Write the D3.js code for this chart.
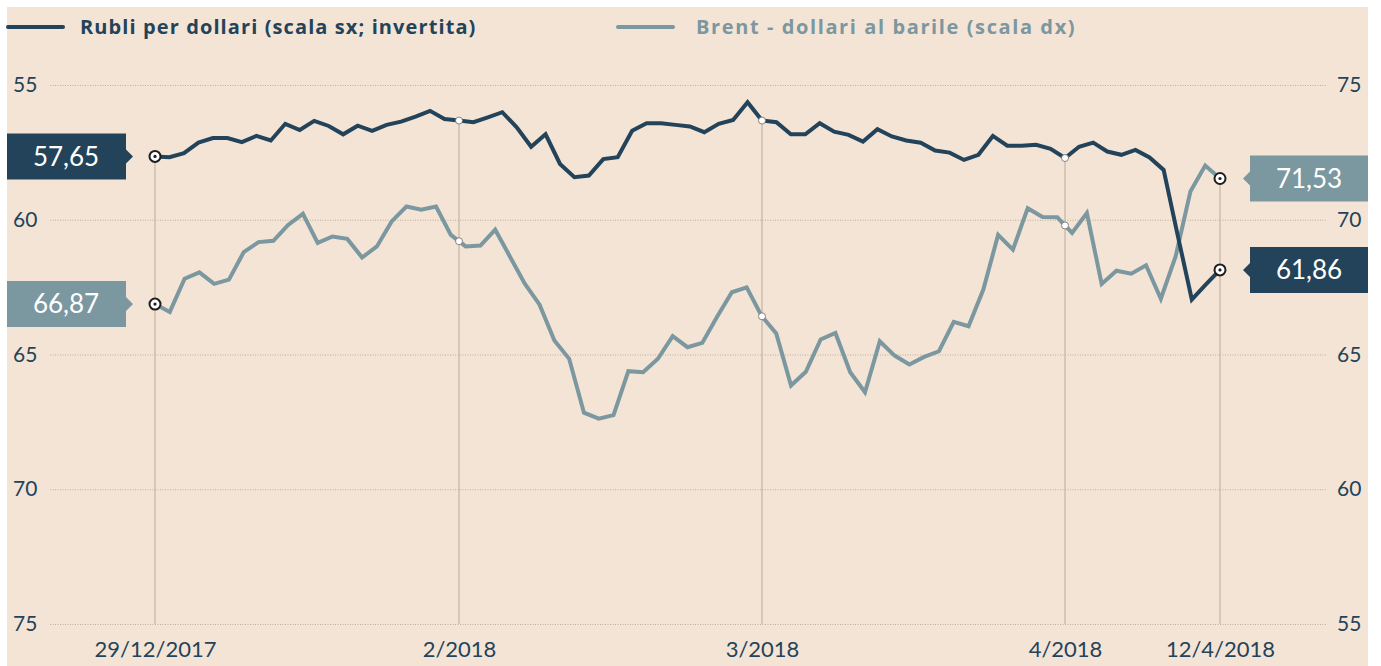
<!DOCTYPE html>
<html lang="it">
<head>
  <meta charset="UTF-8" />
  <title>Rubli per dollari e Brent</title>
  <script src="https://cdn.jsdelivr.net/npm/d3@7"></script>
  <style>
    html, body {
      margin: 0;
      padding: 0;
      background: #ffffff;
      overflow: hidden;
    }
    svg { display: block; }
    text { font-family: "Lato", "Open Sans", sans-serif; }
  </style>
</head>
<body>
  <script>
    // ----------------------------
    // Data
    // ----------------------------
    // rubli per dollaro, one value per trading session (scala sx, invertita)
    const rubli = [
      57.65, 57.68, 57.53, 57.14, 56.97, 56.97, 57.12, 56.89, 57.06, 56.44,
      56.67, 56.33, 56.52, 56.83, 56.51, 56.70, 56.48, 56.36, 56.17, 55.96,
      56.26, 56.32, 56.38, 56.20, 56.01, 56.57, 57.29, 56.83, 57.93, 58.42,
      58.36, 57.75, 57.68, 56.70, 56.42, 56.42, 56.48, 56.54, 56.75, 56.44,
      56.30, 55.64, 56.32, 56.38, 56.83, 56.83, 56.42, 56.73, 56.85, 57.10,
      56.64, 56.91, 57.06, 57.14, 57.43, 57.51, 57.78, 57.59, 56.89, 57.25,
      57.25, 57.22, 57.37, 57.71, 57.29, 57.14, 57.47, 57.59, 57.41, 57.69,
      58.15, 60.58, 62.96, 62.40, 61.86
    ];
    // Brent, dollari al barile (scala dx)
    const brent = [
      66.87, 66.58, 67.81, 68.05, 67.62, 67.78, 68.80, 69.17, 69.22, 69.81,
      70.22, 69.14, 69.38, 69.29, 68.60, 69.01, 69.94, 70.49, 70.37, 70.49,
      69.44, 69.01, 69.04, 69.63, 68.63, 67.63, 66.85, 65.52, 64.84, 62.84,
      62.62, 62.75, 64.38, 64.34, 64.84, 65.68, 65.27, 65.43, 66.40, 67.31,
      67.49, 66.44, 65.78, 63.85, 64.36, 65.56, 65.80, 64.34, 63.60, 65.49,
      64.96, 64.63, 64.91, 65.12, 66.21, 66.05, 67.41, 69.44, 68.89, 70.43,
      70.10, 70.09, 69.51, 70.25, 67.62, 68.11, 68.00, 68.31, 67.07, 68.64,
      71.05, 72.01, 71.53
    ];
    // x ticks: index into the rubli series and their labels
    const tickIdx = [0, 21, 42, 63, 74];
    const tickLabels = ["29/12/2017", "2/2018", "3/2018", "4/2018", "12/4/2018"];
    const leftTicks = [55, 60, 65, 70, 75];
    const rightTicks = [75, 70, 65, 60, 55];
    const legendLabels = ["Rubli per dollari (scala sx; invertita)", "Brent - dollari al barile (scala dx)"];

    // ----------------------------
    // Layout / colours
    // ----------------------------
    const width = 1381, height = 666;
    const bg = "#f4e4d5";
    const dark = "#23435a";
    const light = "#7b979f";
    const guide = "#c6b4a2";
    const plotLeft = 50, plotRight = 1326, plotTop = 85, plotBottom = 624;

    const itLocale = d3.formatLocale({ decimal: ",", thousands: ".", grouping: [3], currency: ["", "€"] });
    const fmt = itLocale.format(".2f");

    const svg = d3.select("body").append("svg")
      .attr("width", width)
      .attr("height", height);

    svg.append("rect")
      .attr("x", 7).attr("y", 7)
      .attr("width", 1368 - 7).attr("height", height - 7)
      .attr("fill", bg);

    // ----------------------------
    // Scales
    // ----------------------------
    const yL = d3.scaleLinear().domain([55, 75]).range([plotTop, plotBottom]);
    const yR = d3.scaleLinear().domain([75, 55]).range([plotTop, plotBottom]);
    const xR = d3.scaleLinear().domain(tickIdx).range([155, 459, 762, 1065, 1220]);
    const xB = d3.scaleLinear().domain([0, brent.length - 1]).range([155, 1220]);

    // brent value at an arbitrary x (for the guide-line markers)
    function brentAt(px) {
      const f = xB.invert(px);
      const i = Math.max(0, Math.min(brent.length - 2, Math.floor(f)));
      return d3.interpolateNumber(brent[i], brent[i + 1])(f - i);
    }

    // ----------------------------
    // Grid + left axis
    // ----------------------------
    const gLeft = svg.append("g")
      .attr("transform", `translate(${plotLeft},0)`)
      .call(d3.axisRight(yL).tickValues(leftTicks).tickSize(plotRight - plotLeft).tickFormat(d3.format("d")));
    gLeft.select(".domain").remove();
    gLeft.selectAll(".tick line")
      .attr("stroke", "#bfae9c")
      .attr("stroke-width", 1)
      .attr("stroke-dasharray", "1,1.5");
    gLeft.selectAll(".tick text")
      .attr("x", 13 - plotLeft)
      .attr("text-anchor", "start")
      .attr("fill", dark)
      .style("font-size", "21px")
      .style("font-family", "Lato, sans-serif");

    // right axis
    const gRight = svg.append("g")
      .attr("transform", `translate(${plotRight},0)`)
      .call(d3.axisRight(yR).tickValues(rightTicks).tickSize(0).tickPadding(11).tickFormat(d3.format("d")));
    gRight.select(".domain").remove();
    gRight.selectAll(".tick text")
      .attr("fill", dark)
      .style("font-size", "21px")
      .style("font-family", "Lato, sans-serif");

    // ----------------------------
    // Vertical guides at the date ticks
    // ----------------------------
    const guides = tickIdx.map(i => {
      const x = xR(i);
      return { x, yr: yL(rubli[i]), yb: yR(brentAt(x)), end: i === 0 || i === tickIdx[tickIdx.length - 1] };
    });

    svg.append("g").selectAll("line")
      .data(guides)
      .join("line")
      .attr("x1", d => d.x).attr("x2", d => d.x)
      .attr("y1", d => Math.min(d.yr, d.yb))
      .attr("y2", plotBottom)
      .attr("stroke", guide)
      .attr("stroke-width", 1.2);

    // bottom axis labels
    const gBottom = svg.append("g")
      .attr("transform", `translate(0,${plotBottom})`)
      .call(d3.axisBottom(xR).tickValues(tickIdx).tickSize(0).tickPadding(17)
        .tickFormat((d, i) => tickLabels[i]));
    gBottom.select(".domain").remove();
    gBottom.selectAll(".tick text")
      .attr("fill", dark)
      .style("font-size", "22px")
      .style("font-family", "Lato, sans-serif");

    // ----------------------------
    // Lines
    // ----------------------------
    const lineR = d3.line().x((d, i) => xR(i)).y(d => yL(d));
    const lineB = d3.line().x((d, i) => xB(i)).y(d => yR(d));

    svg.append("path")
      .datum(brent)
      .attr("fill", "none")
      .attr("stroke", light)
      .attr("stroke-width", 4)
      .attr("stroke-linejoin", "miter")
      .attr("d", lineB);

    svg.append("path")
      .datum(rubli)
      .attr("fill", "none")
      .attr("stroke", dark)
      .attr("stroke-width", 4)
      .attr("stroke-linejoin", "miter")
      .attr("d", lineR);

    // ----------------------------
    // Markers
    // ----------------------------
    const markerPts = [];
    guides.forEach(g => {
      markerPts.push({ x: g.x, y: g.yr, end: g.end });
      markerPts.push({ x: g.x, y: g.yb, end: g.end });
    });

    const mk = svg.append("g").selectAll("g")
      .data(markerPts)
      .join("g")
      .attr("transform", d => `translate(${d.x},${d.y})`);
    mk.append("circle")
      .attr("r", d => d.end ? 5.5 : 3.5)
      .attr("fill", "#ffffff")
      .attr("stroke", d => d.end ? "#1e1e1e" : "#6a6a6a")
      .attr("stroke-width", d => d.end ? 2 : 0.8);
    mk.filter(d => d.end).append("circle")
      .attr("r", 1.6)
      .attr("fill", "#1e1e1e");

    // ----------------------------
    // Value boxes
    // ----------------------------
    const last = tickIdx[tickIdx.length - 1];
    const boxes = [
      { side: "left", y: yL(rubli[0]), v: rubli[0], c: dark },
      { side: "left", y: yR(brent[0]), v: brent[0], c: light },
      { side: "right", y: yR(brent[brent.length - 1]), v: brent[brent.length - 1], c: light },
      { side: "right", y: yL(rubli[last]), v: rubli[last], c: dark }
    ];
    const boxH = 46;
    const bx = svg.append("g").selectAll("g")
      .data(boxes)
      .join("g");
    bx.append("path")
      .attr("fill", d => d.c)
      .attr("d", d => {
        const t = d.y - boxH / 2, b = d.y + boxH / 2;
        if (d.side === "left") {
          return `M7,${t}H126V${d.y - 7}L133,${d.y}L126,${d.y + 7}V${b}H7Z`;
        }
        return `M1368,${t}H1250V${d.y - 7}L1243,${d.y}L1250,${d.y + 7}V${b}H1368Z`;
      });
    bx.append("text")
      .attr("x", d => d.side === "left" ? 66 : 1309)
      .attr("y", d => d.y)
      .attr("dy", "0.36em")
      .attr("text-anchor", "middle")
      .attr("fill", "#ffffff")
      .style("font-size", "26px")
      .text(d => fmt(d.v));

    // ----------------------------
    // Legend
    // ----------------------------
    const legend = svg.append("g").selectAll("g")
      .data(legendLabels)
      .join("g")
      .attr("transform", (d, i) => `translate(${i === 0 ? 8 : 618},27)`);
    legend.append("line")
      .attr("x1", 0).attr("x2", 55)
      .attr("stroke", (d, i) => i === 0 ? dark : light)
      .attr("stroke-width", 4)
      .attr("stroke-linecap", "round");
    legend.append("text")
      .attr("x", (d, i) => i === 0 ? 72 : 78)
      .attr("dy", "0.35em")
      .attr("fill", (d, i) => i === 0 ? dark : light)
      .style("font-family", "'Open Sans', sans-serif")
      .style("font-size", "20px")
      .style("font-weight", "700")
      .style("letter-spacing", (d, i) => i === 0 ? "1.1px" : "1.6px")
      .text(d => d);
  </script>
</body>
</html>
